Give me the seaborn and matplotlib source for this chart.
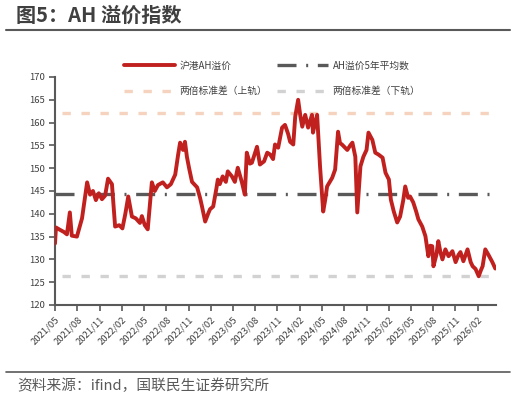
import matplotlib
matplotlib.use("Agg")
import matplotlib.pyplot as plt
import matplotlib.dates as mdates
from matplotlib.lines import Line2D
import seaborn as sns
import pandas as pd

# ---- data ----
dates = [
    "2021-05-01", "2021-05-05", "2021-05-21", "2021-06-07", "2021-06-19", "2021-07-01", "2021-07-09", "2021-07-30",
    "2021-08-12", "2021-08-20", "2021-09-10", "2021-09-22", "2021-10-04", "2021-10-16", "2021-10-28", "2021-11-10",
    "2021-11-23", "2021-12-05", "2021-12-21", "2022-01-03", "2022-01-20", "2022-02-02", "2022-02-14", "2022-02-26",
    "2022-03-13", "2022-03-29", "2022-04-15", "2022-04-23", "2022-05-05", "2022-05-17", "2022-06-03", "2022-06-15",
    "2022-06-28", "2022-07-18", "2022-08-04", "2022-08-20", "2022-09-07", "2022-09-19", "2022-09-27", "2022-10-09",
    "2022-10-17", "2022-10-25", "2022-11-03", "2022-11-15", "2022-12-06", "2022-12-18", "2022-12-26", "2023-01-08",
    "2023-01-20", "2023-01-28", "2023-02-10", "2023-02-23", "2023-03-01", "2023-03-09", "2023-03-21", "2023-04-03",
    "2023-04-11", "2023-04-28", "2023-05-10", "2023-05-22", "2023-06-08", "2023-06-20", "2023-06-28", "2023-07-11",
    "2023-07-19", "2023-08-09", "2023-08-21", "2023-09-07", "2023-09-20", "2023-10-02", "2023-10-14", "2023-10-22",
    "2023-11-04", "2023-11-20", "2023-12-02", "2023-12-15", "2023-12-23", "2024-01-05", "2024-01-13", "2024-01-25",
    "2024-02-03", "2024-02-11", "2024-02-23", "2024-03-06", "2024-03-22", "2024-03-26", "2024-04-04", "2024-04-12",
    "2024-04-24", "2024-05-07", "2024-05-15", "2024-05-23", "2024-06-13", "2024-06-25", "2024-07-07", "2024-07-15",
    "2024-07-23", "2024-08-14", "2024-08-26", "2024-09-04", "2024-09-16", "2024-09-24", "2024-10-07", "2024-10-19",
    "2024-11-01", "2024-11-09", "2024-11-25", "2024-12-07", "2024-12-20", "2025-01-06", "2025-01-18", "2025-02-01",
    "2025-02-09", "2025-02-21", "2025-03-07", "2025-03-19", "2025-04-01", "2025-04-09", "2025-04-21", "2025-04-29",
    "2025-05-12", "2025-05-24", "2025-06-02", "2025-06-18", "2025-07-01", "2025-07-13", "2025-07-21", "2025-07-29",
    "2025-08-03", "2025-08-15", "2025-08-23", "2025-09-01", "2025-09-09", "2025-09-21", "2025-10-04", "2025-10-20",
    "2025-11-02", "2025-11-14", "2025-11-22", "2025-12-04", "2025-12-21", "2026-01-03", "2026-01-11", "2026-01-23",
    "2026-02-05", "2026-02-13", "2026-02-21", "2026-03-04", "2026-03-16", "2026-04-02", "2026-04-14",
]
ah_premium = [
    133.5, 137.0, 136.5, 136.0, 135.5, 140.3, 135.2, 135.0,
    137.5, 139.0, 146.9, 144.2, 145.0, 143.0, 144.5, 143.2,
    144.0, 147.7, 146.5, 137.2, 137.5, 136.8, 140.0, 143.8,
    139.4, 139.0, 138.0, 139.5, 137.5, 136.6, 146.9, 145.0,
    146.3, 146.9, 145.8, 146.5, 148.6, 153.0, 155.6, 154.0,
    155.8, 152.5, 150.0, 147.0, 145.8, 143.5, 141.6, 138.3,
    140.0, 141.0, 141.6, 145.5, 147.5, 146.5, 148.2, 147.0,
    149.3, 148.2, 147.0, 150.1, 146.9, 144.2, 153.4, 151.0,
    151.2, 154.7, 150.8, 151.5, 153.4, 153.0, 152.0, 155.2,
    154.5, 158.9, 159.5, 157.5, 155.8, 155.2, 161.3, 165.0,
    161.5, 159.1, 161.7, 158.9, 161.7, 157.8, 160.0, 161.7,
    150.4, 140.5, 143.0, 146.0, 147.9, 149.7, 158.0, 155.5,
    155.2, 154.0, 155.0, 155.6, 152.5, 140.3, 150.4, 152.5,
    154.0, 157.8, 156.2, 153.4, 153.0, 152.3, 149.0, 147.5,
    143.1, 140.5, 138.1, 139.4, 143.0, 146.0, 143.5, 143.8,
    142.5, 140.5, 138.8, 137.2, 135.1, 130.7, 133.0, 132.9,
    128.5, 131.0, 134.0, 131.5, 130.0, 132.2, 130.7, 131.8,
    129.4, 131.0, 131.6, 129.6, 132.2, 129.4, 128.5, 127.9,
    126.3, 127.5, 128.5, 132.2, 131.1, 129.4, 128.0,
]
mean_5y = 144.4
upper_band = 162.2
lower_band = 126.4

series_labels = ["沪港AH溢价", "AH溢价5年平均数", "两倍标准差（上轨）", "两倍标准差（下轨）"]
y_ticks = [120, 125, 130, 135, 140, 145, 150, 155, 160, 165, 170]
title_text = "图5：AH 溢价指数"
source_text = "资料来源：ifind，国联民生证券研究所"

# ---- style ----
sns.set_theme(style="white")
plt.rcParams["font.family"] = ["Noto Sans CJK SC", "DejaVu Sans"]
plt.rcParams["axes.unicode_minus"] = False

RED = "#C0211F"
DARK = "#595959"
PEACH = "#F5D3BF"
LGREY = "#D2D2D2"
TXT = "#404040"

df = pd.DataFrame({"date": pd.to_datetime(dates), "value": ah_premium})

fig = plt.figure(figsize=(5.16, 4.0), dpi=100)
ax = fig.add_axes([55 / 516, 1 - 305 / 400, (496 - 55) / 516, (305 - 77) / 400])

ax.axhline(upper_band, color=PEACH, lw=2.4, dashes=(2.5, 3.2), xmin=0.015, xmax=0.985, zorder=1)
ax.axhline(lower_band, color=LGREY, lw=2.4, dashes=(2.5, 3.2), xmin=0.015, xmax=0.985, zorder=1)
ax.axhline(mean_5y, color=DARK, lw=2.4, dashes=(5.7, 2.9, 0.6, 2.9), xmin=0.0, xmax=0.985, zorder=2)
sns.lineplot(data=df, x="date", y="value", ax=ax, color=RED, lw=2.8, zorder=3)

ax.set_xlim(pd.Timestamp("2021-05-01"), pd.Timestamp("2026-04-17"))
ax.set_ylim(120, 170)
ax.set_yticks(y_ticks)
ax.xaxis.set_major_locator(mdates.MonthLocator(bymonth=[2, 5, 8, 11]))
ax.xaxis.set_major_formatter(mdates.DateFormatter("%Y/%m"))
ax.set_xlabel("")
ax.set_ylabel("")

for s in ["top", "right"]:
    ax.spines[s].set_visible(False)
for s in ["left", "bottom"]:
    ax.spines[s].set_color(DARK)
    ax.spines[s].set_linewidth(1.5)

ax.tick_params(axis="both", direction="out", length=4, width=1.2, color=DARK,
               labelsize=6.8, labelcolor=TXT, pad=3)
ax.tick_params(axis="x", bottom=True)
ax.tick_params(axis="y", left=True)
for lbl in ax.get_xticklabels():
    lbl.set_rotation(45)
    lbl.set_ha("right")
    lbl.set_rotation_mode("anchor")

handles = [
    Line2D([], [], color=RED, lw=2.8),
    Line2D([], [], color=PEACH, lw=2.4, dashes=(2.5, 3.2)),
    Line2D([], [], color=DARK, lw=2.4, dashes=(5.7, 2.9, 0.6, 2.9)),
    Line2D([], [], color=LGREY, lw=2.4, dashes=(2.5, 3.2)),
]
labels = [series_labels[0], series_labels[2], series_labels[1], series_labels[3]]
fig.legend(handles, labels, ncol=2, loc="center", bbox_to_anchor=(0.528, 0.804),
           frameon=False, fontsize=7, handlelength=5.2, columnspacing=1.0,
           labelspacing=1.6, handletextpad=0.5, labelcolor=TXT)

# title, rules, source
fig.text(16 / 516, 1 - 15 / 400, title_text, fontsize=14.5, fontweight="bold",
         color=TXT, ha="left", va="center")
fig.add_artist(Line2D([6 / 516, 510 / 516], [1 - 30 / 400, 1 - 30 / 400],
                      transform=fig.transFigure, color=DARK, lw=1.5))
fig.add_artist(Line2D([6 / 516, 510 / 516], [1 - 372 / 400, 1 - 372 / 400],
                      transform=fig.transFigure, color=DARK, lw=1.2))
fig.text(17 / 516, 1 - 386 / 400, source_text, fontsize=10.6, color=DARK,
         ha="left", va="center")

fig.savefig("out.png", dpi=100)
